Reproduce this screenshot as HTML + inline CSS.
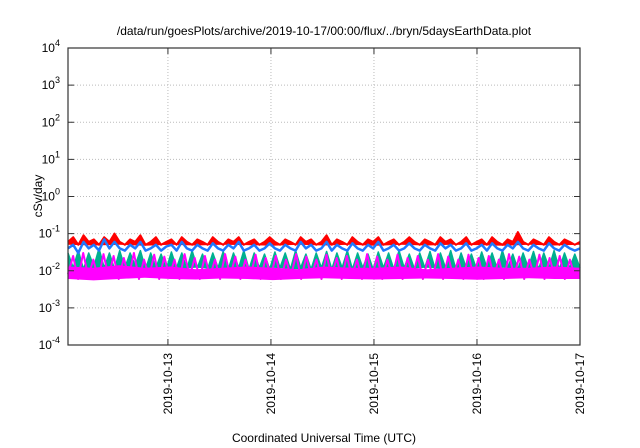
<!DOCTYPE html>
<html><head><meta charset="utf-8"><style>
body{margin:0;background:#fff}
svg{display:block;font-family:"Liberation Sans",sans-serif}
</style></head><body>
<svg id="c" width="640" height="448">
<text x="324" y="35" text-anchor="middle" font-size="12">/data/run/goesPlots/archive/2019-10-17/00:00/flux/../bryn/5daysEarthData.plot</text>
<text x="324" y="442" text-anchor="middle" font-size="12">Coordinated Universal Time (UTC)</text>
<text transform="translate(42,196) rotate(-90)" text-anchor="middle" font-size="12">cSv/day</text>
<g id="grid"></g><g id="series"></g><g id="axes"></g>
</svg>
<script>
const xTickLabels=["2019-10-13","2019-10-14","2019-10-15","2019-10-16","2019-10-17"];
const xTickDays=[1,2,3,4,5];
const yTickExps=[-4,-3,-2,-1,0,1,2,3,4];
const red=[0.06,0.08,0.05,0.09,0.06,0.07,0.05,0.08,0.06,0.1,0.06,0.05,0.07,0.06,0.09,0.05,0.06,0.08,0.05,0.06,0.07,0.05,0.08,0.06,0.05,0.07,0.06,0.05,0.08,0.06,0.05,0.07,0.06,0.08,0.05,0.06,0.07,0.05,0.06,0.08,0.06,0.05,0.07,0.06,0.05,0.08,0.06,0.07,0.05,0.06,0.09,0.05,0.07,0.06,0.05,0.08,0.06,0.05,0.07,0.06,0.08,0.05,0.06,0.07,0.05,0.06,0.08,0.06,0.05,0.07,0.06,0.05,0.08,0.06,0.07,0.05,0.06,0.08,0.05,0.06,0.07,0.05,0.08,0.06,0.05,0.07,0.06,0.11,0.06,0.05,0.07,0.06,0.05,0.08,0.06,0.05,0.07,0.06,0.05,0.06];
const blue=[0.04,0.05,0.03,0.06,0.04,0.05,0.035,0.07,0.04,0.06,0.04,0.035,0.05,0.04,0.06,0.035,0.04,0.05,0.035,0.045,0.05,0.035,0.06,0.04,0.035,0.05,0.04,0.035,0.055,0.04,0.035,0.05,0.04,0.06,0.035,0.04,0.05,0.035,0.04,0.055,0.04,0.035,0.05,0.04,0.035,0.06,0.04,0.05,0.035,0.04,0.06,0.035,0.05,0.04,0.035,0.055,0.04,0.035,0.05,0.04,0.06,0.035,0.04,0.05,0.035,0.04,0.055,0.04,0.035,0.05,0.04,0.035,0.055,0.04,0.05,0.035,0.04,0.055,0.035,0.04,0.05,0.035,0.055,0.04,0.035,0.05,0.04,0.06,0.04,0.035,0.05,0.04,0.035,0.055,0.04,0.035,0.05,0.04,0.035,0.04];
const green=[0.03,0.012,0.035,0.011,0.03,0.013,0.04,0.012,0.03,0.011,0.035,0.012,0.03,0.014,0.035,0.011,0.03,0.012,0.028,0.011,0.032,0.012,0.03,0.011,0.035,0.012,0.028,0.011,0.03,0.012,0.033,0.011,0.03,0.012,0.035,0.011,0.03,0.012,0.028,0.011,0.032,0.012,0.03,0.011,0.035,0.012,0.028,0.011,0.03,0.012,0.033,0.011,0.03,0.012,0.035,0.011,0.03,0.012,0.028,0.011,0.032,0.012,0.03,0.011,0.035,0.012,0.028,0.011,0.03,0.012,0.033,0.011,0.03,0.012,0.035,0.011,0.03,0.012,0.028,0.011,0.032,0.012,0.03,0.011,0.035,0.012,0.028,0.011,0.03,0.012,0.033,0.011,0.03,0.012,0.035,0.011,0.03,0.012,0.028,0.012];
const magenta=[0.008,0.025,0.006,0.03,0.007,0.02,0.006,0.028,0.007,0.025,0.006,0.022,0.007,0.03,0.006,0.02,0.007,0.027,0.006,0.024,0.007,0.02,0.006,0.028,0.007,0.022,0.006,0.025,0.007,0.02,0.006,0.028,0.007,0.024,0.006,0.02,0.007,0.027,0.006,0.022,0.007,0.025,0.006,0.02,0.007,0.028,0.006,0.024,0.007,0.02,0.006,0.027,0.007,0.022,0.006,0.025,0.007,0.02,0.006,0.028,0.007,0.024,0.006,0.02,0.007,0.027,0.006,0.022,0.007,0.025,0.006,0.02,0.007,0.028,0.006,0.024,0.007,0.02,0.006,0.027,0.007,0.022,0.006,0.025,0.007,0.02,0.006,0.028,0.007,0.024,0.006,0.02,0.007,0.027,0.006,0.022,0.007,0.025,0.006,0.02,0.007,0.008];
const magentaLo=[0.006,0.0055,0.006,0.0065,0.006,0.0058,0.0062,0.006,0.0056,0.006,0.0063,0.006,0.0058,0.006,0.0062,0.006,0.0057,0.006,0.0063,0.006,0.006];
const magentaHi=[0.013,0.012,0.014,0.012,0.013,0.011,0.012,0.013,0.012,0.011,0.013,0.012,0.012,0.013,0.011,0.012,0.013,0.012,0.012,0.013,0.012];
const greenLo=[0.011,0.011,0.012,0.011,0.011,0.012,0.011,0.011,0.012,0.011,0.011,0.012,0.011,0.011,0.012,0.011,0.011,0.012,0.011,0.011,0.011];
const redLo=[0.05,0.048,0.05,0.047,0.05,0.048,0.05,0.049,0.047,0.05,0.048,0.05,0.047,0.05,0.048,0.05,0.049,0.047,0.05,0.048,0.05];
const L=68,R=580,T=48,B=345,xmin=0.03,xmax=5.0;
const ns="http://www.w3.org/2000/svg";
const xs=d=>L+(d-xmin)/(xmax-xmin)*(R-L);
const ys=v=>B-(Math.log10(v)+4)/8*(B-T);
function mk(tag,attrs,parent){const e=document.createElementNS(ns,tag);for(const k in attrs)e.setAttribute(k,attrs[k]);document.getElementById(parent).appendChild(e);return e;}
yTickExps.forEach(e=>{const y=ys(Math.pow(10,e));
 if(e>-4&&e<4){const g=mk('line',{x1:L,x2:R,y1:y,y2:y,stroke:'#bbb','stroke-dasharray':'1,2'},'grid');}
 const t=mk('line',{x1:L,x2:L+6,y1:y,y2:y,stroke:'#333'},'axes');
 const t2=mk('line',{x1:R-6,x2:R,y1:y,y2:y,stroke:'#333'},'axes');
 const lb=mk('text',{x:L-8,y:y+4,'text-anchor':'end','font-size':'12'},'axes');
 lb.innerHTML='10<tspan dy="-6" font-size="9">'+e+'</tspan>';});
xTickDays.forEach((d,i)=>{const x=xs(d);
 const g=mk('line',{x1:x,x2:x,y1:T,y2:B,stroke:'#bbb','stroke-dasharray':'1,2'},'grid');
 const t=mk('line',{x1:x,x2:x,y1:B-6,y2:B,stroke:'#333'},'axes');
 const t2=mk('line',{x1:x,x2:x,y1:T,y2:T+6,stroke:'#333'},'axes');
 const lb=mk('text',{transform:`translate(${x+4},${B+8}) rotate(-90)`,'text-anchor':'end','font-size':'12'},'axes');lb.textContent=xTickLabels[i];});
const fr=mk('rect',{x:L,y:T,width:R-L,height:B-T,fill:'none',stroke:'#333','stroke-width':1.2},'axes');
function px(arr,i){return xs(xmin+i/(arr.length-1)*(xmax-xmin)).toFixed(1);}
function band(lo,hi,col,name){
 const top=hi.map((v,i)=>px(hi,i)+','+ys(v).toFixed(1));
 const bot=lo.map((v,i)=>px(lo,i)+','+ys(v).toFixed(1)).reverse();
 const p=mk('polygon',{points:top.concat(bot).join(' '),fill:col},'series');
 }
function line(arr,col,name,w){
 const pts=arr.map((v,i)=>px(arr,i)+','+ys(v).toFixed(1)).join(' ');
 const p=mk('polyline',{points:pts,fill:'none',stroke:col,'stroke-width':w,'stroke-linejoin':'round'},'series');
 }
band(redLo,red,'#ff0000','series-red-band');
line(red,'#ff0000','series-red',2);
band(greenLo,green,'#00b090','series-green-band');
line(green,'#00b090','series-green',1.5);
line(blue,'#1e78ff','series-blue',2.5);
band(magentaLo,magentaHi,'#ff00ff','series-magenta-band');
line(magenta,'#ff00ff','series-magenta',2);
</script>
</body></html>
